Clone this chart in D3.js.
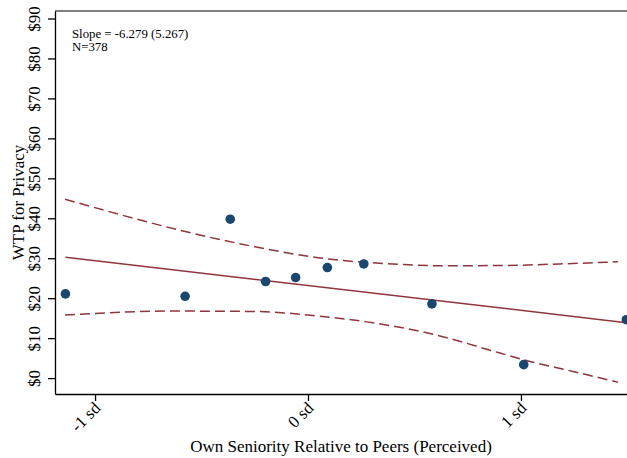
<!DOCTYPE html>
<html lang="en">
<head>
    <meta charset="UTF-8">
    <title>WTP for Privacy vs Seniority</title>
    <script src="https://d3js.org/d3.v7.min.js"></script>
    <style>
        body {
            margin: 0;
            background-color: #fff;
            font-family: 'Liberation Serif', 'Times New Roman', serif;
        }

        .axis text {
            font-family: 'Liberation Serif', 'Times New Roman', serif;
            font-size: 17px;
            fill: #000;
        }

        .axis path,
        .axis line {
            stroke: #000;
            stroke-width: 1.3;
        }
    </style>
</head>
<body>
    <div id="chart"></div>
    <script>
        // binned scatter: seniority (in sd) vs mean WTP
        const binX = [-1.139, -0.577, -0.365, -0.199, -0.058, 0.091, 0.262, 0.582, 1.013, 1.495];
        const binY = [21.2, 20.6, 39.9, 24.3, 25.3, 27.8, 28.7, 18.7, 3.5, 14.75];

        // fitted line endpoints
        const fitX = [-1.139, 1.495];
        const fitY = [30.4, 14.0];

        // 95% CI bands
        const ciUpperX = [-1.141, -0.413, -0.249, 0.056, 0.432, 0.620, 0.901, 1.183, 1.455];
        const ciUpperY = [44.9, 34.8, 33.0, 30.2, 28.6, 28.25, 28.3, 28.7, 29.25];
        const ciLowerX = [-1.141, -0.638, -0.249, 0.056, 0.277, 0.596, 0.901, 1.042, 1.244, 1.455];
        const ciLowerY = [15.9, 16.9, 16.8, 15.6, 14.2, 11.0, 6.4, 4.3, 1.8, -0.9];

        const yTicks = [0, 10, 20, 30, 40, 50, 60, 70, 80, 90];
        const xTicks = [-1, 0, 1];
        const xTickLabels = ["-1 sd", "0 sd", "1 sd"];

        const annotation = ["Slope = -6.279 (5.267)", "N=378"];
        const xTitle = "Own Seniority Relative to Peers (Perceived)";
        const yTitle = "WTP for Privacy";

        let totalWidth = 627,
            totalHeight = 458;
        let margin = { top: 11, right: 0, bottom: 64, left: 55 },
            width = totalWidth - margin.left - margin.right,
            height = totalHeight - margin.top - margin.bottom;

        let svg = d3.select("#chart").append("svg")
            .attr("width", totalWidth)
            .attr("height", totalHeight);

        let g = svg.append("g")
            .attr("transform", "translate(" + margin.left + "," + margin.top + ")");

        let x = d3.scaleLinear()
            .domain([-1.188, 1.498])
            .range([0, width]);

        let y = d3.scaleLinear()
            .domain([-3.85, 92])
            .range([height, 0]);

        const lineColor = "#90353b";
        const dotColor = "#1a476f";

        // top frame line
        g.append("line")
            .attr("x1", 0)
            .attr("x2", width)
            .attr("y1", 0)
            .attr("y2", 0)
            .attr("stroke", "#555")
            .attr("stroke-width", 1.3);

        // y axis
        let yAxis = g.append("g")
            .attr("class", "axis")
            .call(d3.axisLeft(y).tickValues(yTicks).tickFormat(d => "$" + d).tickSize(7).tickSizeOuter(0));
        yAxis.selectAll("text")
            .attr("transform", d => "translate(-15," + y(d) + ") rotate(-90)")
            .attr("x", 0)
            .attr("y", 0)
            .attr("dy", 0)
            .style("text-anchor", "middle");
        yAxis.selectAll(".tick").attr("transform", null);
        yAxis.selectAll(".tick line")
            .attr("y1", d => y(d))
            .attr("y2", d => y(d));

        // x axis
        let xAxis = g.append("g")
            .attr("class", "axis")
            .attr("transform", "translate(0," + height + ")")
            .call(d3.axisBottom(x).tickValues(xTicks).tickFormat((d, i) => xTickLabels[i]).tickSize(7).tickSizeOuter(0));
        xAxis.selectAll("text")
            .attr("x", 0)
            .attr("y", 0)
            .attr("dy", 0)
            .attr("transform", "translate(6,15) rotate(-45)")
            .style("text-anchor", "end");

        // CI bands
        let ciLine = d3.line()
            .x(d => x(d[0]))
            .y(d => y(d[1]))
            .curve(d3.curveMonotoneX);

        g.append("path")
            .datum(ciUpperX.map((v, i) => [v, ciUpperY[i]]))
            .attr("d", ciLine)
            .attr("fill", "none")
            .attr("stroke", lineColor)
            .attr("stroke-width", 1.5)
            .attr("stroke-dasharray", "10,5");

        g.append("path")
            .datum(ciLowerX.map((v, i) => [v, ciLowerY[i]]))
            .attr("d", ciLine)
            .attr("fill", "none")
            .attr("stroke", lineColor)
            .attr("stroke-width", 1.5)
            .attr("stroke-dasharray", "10,5");

        // fitted line
        g.append("path")
            .datum(fitX.map((v, i) => [v, fitY[i]]))
            .attr("d", d3.line().x(d => x(d[0])).y(d => y(d[1])))
            .attr("fill", "none")
            .attr("stroke", lineColor)
            .attr("stroke-width", 1.5);

        // dots
        g.selectAll(".dot")
            .data(binX.map((v, i) => ({ x: v, y: binY[i] })))
            .enter()
            .append("circle")
            .attr("class", "dot")
            .attr("cx", d => x(d.x))
            .attr("cy", d => y(d.y))
            .attr("r", 4.8)
            .attr("fill", dotColor);

        // annotation
        g.selectAll(".note")
            .data(annotation)
            .enter()
            .append("text")
            .attr("class", "note")
            .attr("x", 17)
            .attr("y", (d, i) => 26.5 + i * 13)
            .style("font-size", "12.8px")
            .style("fill", "#000")
            .text(d => d);

        // axis titles
        svg.append("text")
            .attr("x", margin.left + width / 2)
            .attr("y", 452)
            .attr("text-anchor", "middle")
            .style("font-size", "17px")
            .text(xTitle);

        svg.append("text")
            .attr("transform", "translate(24," + (margin.top + height / 2) + ") rotate(-90)")
            .attr("text-anchor", "middle")
            .style("font-size", "17px")
            .text(yTitle);
    </script>
</body>
</html>
